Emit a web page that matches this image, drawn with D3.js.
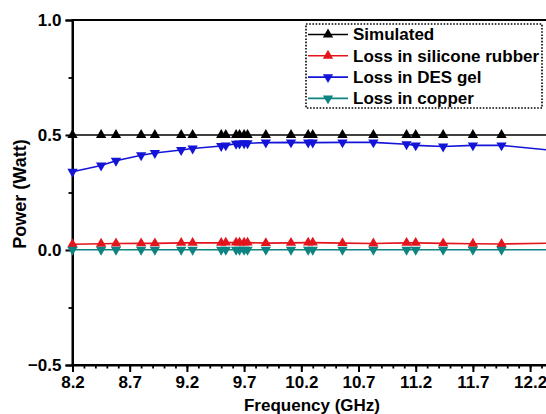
<!DOCTYPE html>
<html>
<head>
<meta charset="utf-8">
<script src="https://cdn.jsdelivr.net/npm/d3@7"></script>
<style>
  body { margin: 0; background: #fff; }
  text { font-family: "Liberation Sans", Arial, sans-serif; font-weight: bold; fill: #000; }
</style>
</head>
<body>
<script>
let w = 546
let h = 414

// frequency points (GHz); last point lies past the cropped right edge
let freq = [8.2, 8.45, 8.58, 8.8, 8.92, 9.15, 9.25, 9.5, 9.54, 9.63, 9.66, 9.7, 9.73,
            9.89, 10.11, 10.26, 10.3, 10.56, 10.83, 11.12, 11.2, 11.44, 11.7, 11.95, 12.5]

let simulated = [0.5, 0.5, 0.5, 0.5, 0.5, 0.5, 0.5, 0.5, 0.5, 0.5, 0.5, 0.5, 0.5,
                 0.5, 0.5, 0.5, 0.5, 0.5, 0.5, 0.5, 0.5, 0.5, 0.5, 0.5, 0.5]
let silicone = [0.025, 0.027, 0.028, 0.029, 0.029, 0.031, 0.031, 0.031, 0.032, 0.032, 0.032, 0.032, 0.032,
                0.030, 0.031, 0.032, 0.032, 0.030, 0.028, 0.031, 0.031, 0.029, 0.027, 0.026, 0.031]
let desGel = [0.340, 0.367, 0.388, 0.412, 0.422, 0.435, 0.441, 0.452, 0.455, 0.462, 0.463, 0.464, 0.464,
              0.467, 0.468, 0.467, 0.467, 0.468, 0.468, 0.460, 0.455, 0.450, 0.455, 0.455, 0.428]
let copper = [0.001, 0.001, 0.001, 0.001, 0.001, 0.001, 0.001, 0.001, 0.001, 0.001, 0.001, 0.001, 0.001,
              0.001, 0.001, 0.001, 0.001, 0.001, 0.001, 0.001, 0.001, 0.001, 0.001, 0.001, 0.001]

let xTicks = [8.2, 8.7, 9.2, 9.7, 10.2, 10.7, 11.2, 11.7, 12.2]
let yTicks = [-0.5, 0.0, 0.5, 1.0]

let series = [
  {name: "Simulated", values: simulated, color: "#000000", up: true},
  {name: "Loss in silicone rubber", values: silicone, color: "#e3141c", up: true},
  {name: "Loss in DES gel", values: desGel, color: "#1414d8", up: false},
  {name: "Loss in copper", values: copper, color: "#0e8482", up: false}
]

let padLeft = 72.5, padTop = 20, padBottom = 365
let xMax = 12.4
let x = d3.scaleLinear().domain([8.2, xMax]).range([padLeft, padLeft + (xMax - 8.2) * 114.4])
let y = d3.scaleLinear().domain([-0.5, 1.0]).range([padBottom, padTop])

let svg = d3.select("body").append("svg")
  .attr("width", w)
  .attr("height", h)

// frame (right side falls outside the picture)
svg.append("rect")
  .attr("x", x(8.2))
  .attr("y", y(1.0))
  .attr("width", x(xMax) - x(8.2))
  .attr("height", y(-0.5) - y(1.0))
  .attr("fill", "none")
  .attr("stroke", "#000")
  .attr("stroke-width", 2)

// minor ticks
let xMinor = d3.range(82, 124).map(d => d / 10)
svg.append("g")
  .attr("transform", `translate(0,${padBottom})`)
  .call(d3.axisBottom(x).tickValues(xMinor).tickSize(3.5).tickFormat(""))
  .call(g => g.select(".domain").remove())
  .call(g => g.selectAll("line").attr("stroke-width", 1.8))

svg.append("g")
  .attr("transform", `translate(${padLeft},0)`)
  .call(d3.axisLeft(y).tickValues([-0.25, 0.25, 0.75]).tickSize(4).tickFormat(""))
  .call(g => g.select(".domain").remove())
  .call(g => g.selectAll("line").attr("stroke-width", 1.8))

// major axes
let xAxis = svg.append("g")
  .attr("transform", `translate(0,${padBottom})`)
  .call(d3.axisBottom(x).tickValues(xTicks).tickSize(7).tickPadding(4).tickFormat(d3.format(".1f")))
xAxis.select(".domain").attr("stroke-width", 2)
xAxis.selectAll("line").attr("stroke-width", 2)
xAxis.selectAll("text").style("font-size", "17px").attr("fill", "#000")

let yAxis = svg.append("g")
  .attr("transform", `translate(${padLeft},0)`)
  .call(d3.axisLeft(y).tickValues(yTicks).tickSize(7).tickPadding(4).tickFormat(d3.format(".1f")))
yAxis.select(".domain").attr("stroke-width", 2)
yAxis.selectAll("line").attr("stroke-width", 2)
yAxis.selectAll("text").style("font-size", "17px").attr("fill", "#000")

// axis titles
svg.append("text")
  .attr("x", 312)
  .attr("y", 411)
  .attr("text-anchor", "middle")
  .style("font-size", "17px")
  .text("Frequency (GHz)")

svg.append("text")
  .attr("transform", "translate(26,194) rotate(-90)")
  .attr("text-anchor", "middle")
  .style("font-size", "18px")
  .text("Power (Watt)")

// series
let line = d3.line().x(d => x(d[0])).y(d => y(d[1]))
let tri = d3.symbol().type(d3.symbolTriangle).size(46)

let plot = svg.append("g")
series.forEach(s => {
  let pts = freq.map((f, i) => [f, s.values[i]])
  plot.append("path")
    .attr("d", line(pts))
    .attr("fill", "none")
    .attr("stroke", s.color)
    .attr("stroke-width", 1.6)
  plot.selectAll(null)
    .data(pts)
    .enter()
    .append("path")
    .attr("d", tri)
    .attr("transform", d => `translate(${x(d[0])},${y(d[1])})` + (s.up ? "" : " rotate(180)"))
    .attr("fill", s.color)
})

// legend
let legend = svg.append("g")
legend.append("rect")
  .attr("x", 306)
  .attr("y", 24)
  .attr("width", 236)
  .attr("height", 84)
  .attr("fill", "#fff")
  .attr("stroke", "#000")
  .attr("stroke-width", 1.6)
  .attr("stroke-dasharray", "1.6,1.6")

series.forEach((s, i) => {
  let ly = 34.5 + i * 21.3
  legend.append("line")
    .attr("x1", 308)
    .attr("x2", 348)
    .attr("y1", ly)
    .attr("y2", ly)
    .attr("stroke", s.color)
    .attr("stroke-width", 1.6)
  legend.append("path")
    .attr("d", tri)
    .attr("transform", `translate(328,${ly})` + (s.up ? "" : " rotate(180)"))
    .attr("fill", s.color)
  legend.append("text")
    .attr("x", 353)
    .attr("y", ly)
    .attr("dy", "0.35em")
    .style("font-size", "17px")
    .text(s.name)
})
</script>
</body>
</html>
